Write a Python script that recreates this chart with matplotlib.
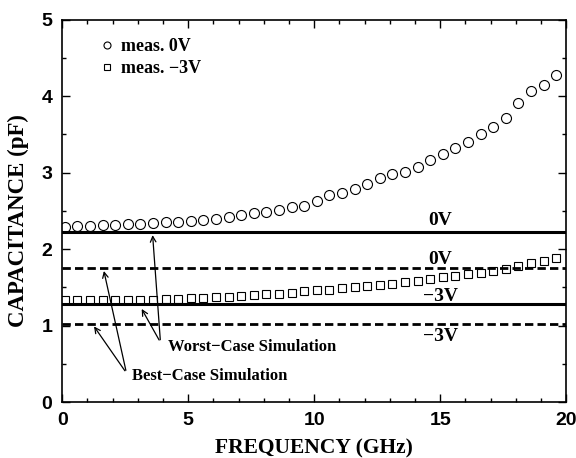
import numpy as np
import matplotlib
matplotlib.use("Agg")
import matplotlib.pyplot as plt
from matplotlib.ticker import MultipleLocator

# measured data (frequency in GHz, capacitance in pF)
freq = [0.1, 0.6, 1.1, 1.6, 2.1, 2.6, 3.1, 3.6, 4.1, 4.6,
        5.1, 5.6, 6.1, 6.6, 7.1, 7.6, 8.1, 8.6, 9.1, 9.6,
        10.1, 10.6, 11.1, 11.6, 12.1, 12.6, 13.1, 13.6, 14.1, 14.6,
        15.1, 15.6, 16.1, 16.6, 17.1, 17.6, 18.1, 18.6, 19.1, 19.6]
cap_0v = [2.29, 2.30, 2.30, 2.31, 2.32, 2.33, 2.33, 2.34, 2.35, 2.36,
          2.37, 2.38, 2.40, 2.42, 2.44, 2.47, 2.49, 2.51, 2.55, 2.57,
          2.63, 2.71, 2.74, 2.79, 2.85, 2.93, 2.98, 3.01, 3.08, 3.16,
          3.25, 3.32, 3.40, 3.51, 3.60, 3.72, 3.91, 4.07, 4.14, 4.28]
cap_3v = [1.33, 1.33, 1.33, 1.33, 1.33, 1.33, 1.34, 1.34, 1.35, 1.35,
          1.36, 1.36, 1.37, 1.38, 1.39, 1.40, 1.41, 1.42, 1.43, 1.45,
          1.46, 1.47, 1.49, 1.50, 1.52, 1.53, 1.55, 1.57, 1.59, 1.61,
          1.63, 1.65, 1.67, 1.69, 1.71, 1.74, 1.78, 1.82, 1.85, 1.88]

# simulated constant capacitances
worst_0v = 2.22
best_0v = 1.75
worst_3v = 1.28
best_3v = 1.02

serif = "Liberation Serif"
sans = "Liberation Sans"

fig = plt.figure(figsize=(5.76, 4.58), dpi=100)
ax = fig.add_axes([0.108, 0.122, 0.875, 0.835])

ax.plot(freq, cap_0v, "o", mfc="none", mec="black", ms=7.2, mew=0.8, label="meas. 0V")
ax.plot(freq, cap_3v, "s", mfc="none", mec="black", ms=6, mew=0.8, label="meas. \u22123V")

ax.axhline(worst_0v, color="black", lw=2.2)
ax.axhline(worst_3v, color="black", lw=2.2)
ax.axhline(best_0v, color="black", lw=2.0, ls=(0, (3, 1.5)))
ax.axhline(best_3v, color="black", lw=2.0, ls=(0, (3, 1.5)))

tfont = dict(family=serif, weight="bold", fontsize=14)
ax.text(15.0, worst_0v + 0.04, "0V", ha="center", va="bottom", **tfont)
ax.text(15.0, best_0v + 0.01, "0V", ha="center", va="bottom", **tfont)
ax.text(15.0, worst_3v - 0.01, "\u22123V", ha="center", va="bottom", **tfont)
ax.text(15.0, best_3v - 0.05, "\u22123V", ha="center", va="top", **tfont)

afont = dict(family=serif, weight="bold", fontsize=12)
arrow = dict(arrowstyle="->", color="black", lw=0.9)
ax.text(4.2, 0.72, "Worst\u2212Case Simulation", ha="left", va="center", **afont)
ax.annotate("", xy=(3.58, worst_0v), xytext=(3.9, 0.78), arrowprops=arrow)
ax.annotate("", xy=(3.1, worst_3v - 0.03), xytext=(3.9, 0.78), arrowprops=arrow)
ax.text(2.75, 0.34, "Best\u2212Case Simulation", ha="left", va="center", **afont)
ax.annotate("", xy=(1.63, best_0v), xytext=(2.55, 0.38), arrowprops=arrow)
ax.annotate("", xy=(1.2, best_3v), xytext=(2.55, 0.38), arrowprops=arrow)

leg = ax.legend(loc="upper left", bbox_to_anchor=(0.045, 0.995), frameon=False,
                handlelength=0.6, handletextpad=0.5, markerscale=0.7,
                labelspacing=0.3, prop=dict(family=serif, weight="bold", size=13))

ax.set_xlim(0, 20)
ax.set_ylim(0, 5)
ax.xaxis.set_major_locator(MultipleLocator(5))
ax.xaxis.set_minor_locator(MultipleLocator(1))
ax.yaxis.set_major_locator(MultipleLocator(1))
ax.yaxis.set_minor_locator(MultipleLocator(0.5))
ax.tick_params(which="both", direction="in", top=True, right=True, width=1)
ax.tick_params(which="major", length=6, labelsize=14, pad=7)
ax.tick_params(which="minor", length=3)
for lab in ax.get_xticklabels() + ax.get_yticklabels():
    lab.set_family(sans)
    lab.set_weight("bold")
for sp in ax.spines.values():
    sp.set_linewidth(1.2)

ax.set_xlabel("FREQUENCY (GHz)", family=serif, weight="bold", fontsize=15.5, labelpad=7)
ax.set_ylabel("CAPACITANCE (pF)", family=serif, weight="bold", fontsize=16.5)
ax.yaxis.set_label_coords(-0.065, 0.475)

fig.savefig("out.png", dpi=100)
